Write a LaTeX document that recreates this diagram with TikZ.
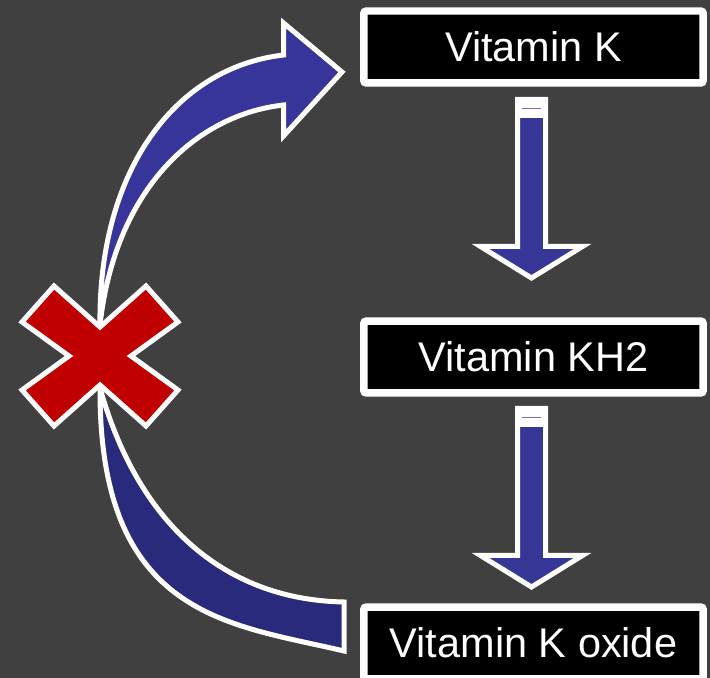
\documentclass[tikz,border=0pt]{standalone}
\usepackage{fontspec}
\setmainfont{Liberation Sans}
\usetikzlibrary{calc}

\definecolor{slate}{HTML}{404040}
\definecolor{cycleblue}{HTML}{373599}
\definecolor{cycledark}{HTML}{2A2A7C}
\definecolor{stepblue}{HTML}{363696}
\definecolor{stopred}{HTML}{C00000}

\begin{document}
\begin{tikzpicture}[
    x=0.02cm, y=-0.02cm,
    vbox/.style={draw=white, fill=black, text=white, line width=0.15cm,
        rounded corners=1.5pt, minimum width=6.79cm, minimum height=1.44cm,
        inner sep=0pt, font=\fontsize{23.6}{28}\selectfont},
    outline/.style={draw=white, line width=0.1cm}
]
\fill[slate] (0,0) rectangle (710,678);
\clip (0,0) rectangle (710,678);

% the three forms of the vitamin
\node[vbox] (vk)  at (533.5,47)  {Vitamin K};
\node[vbox] (vkh) at (533.5,357) {Vitamin KH2};
\node[vbox] (vko) at (533.5,643) {Vitamin K oxide};

% straight steps down the column
\foreach \dy in {0,309} {
    \filldraw[fill=stepblue, outline]
        (517.5,99.5+\dy) -- (517.5,246.5+\dy) -- (480.5,246.5+\dy)
        -- (531.5,278+\dy) -- (582.5,246.5+\dy) -- (545.5,246.5+\dy)
        -- (545.5,99.5+\dy) -- cycle;
    \fill[white] (515,97+\dy) rectangle (548,118+\dy);
    \draw[stepblue!70, line width=0.02cm] (522,109+\dy) -- (541,109+\dy);
}

% recycling arc back to vitamin K
\filldraw[fill=cycleblue, outline]
    (100,325) .. controls (98,175) and (172,68) .. (283.5,55)
    -- (283.5,23) -- (342,72) -- (283.5,136) -- (283.5,105)
    .. controls (195,115) and (115,190) .. (100,325) -- cycle;

% arc leaving the oxide
\filldraw[fill=cycledark, outline]
    (100,388) .. controls (99,618) and (230,624) .. (344,651)
    -- (344,602) .. controls (230,600) and (140,530) .. (100,388) -- cycle;

% blocked step
\coordinate (block) at (100,356);
\filldraw[fill=stopred, outline]
    (100,327) -- (146,286) -- (178,322) -- (131,356) -- (178,390)
    -- (146,426) -- (100,385) -- (54,426) -- (22,390) -- (69,356)
    -- (22,322) -- (54,286) -- cycle;
\end{tikzpicture}
\end{document}
